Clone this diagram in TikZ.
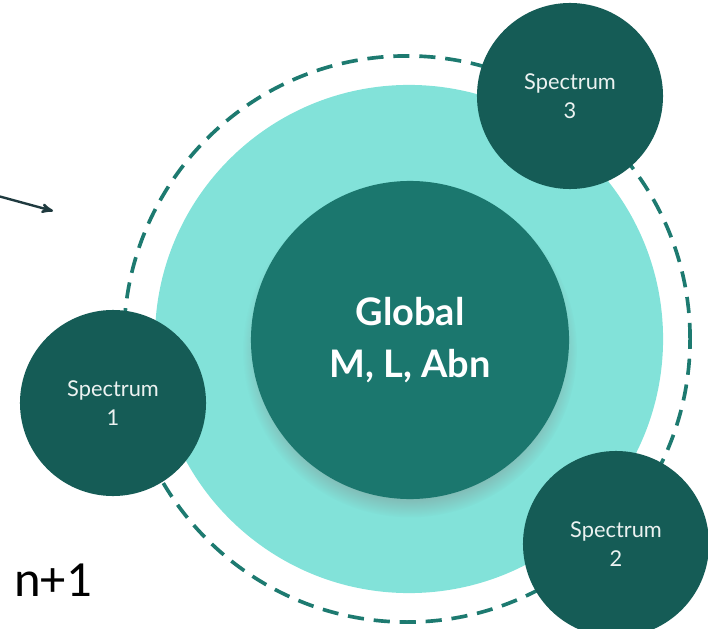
\documentclass[tikz,border=0pt]{standalone}
\usepackage{fontspec}
\setmainfont{Lato}
\newfontfamily\calfont{Carlito}
\usetikzlibrary{arrows,shadows,positioning}
\definecolor{ringcyan}{HTML}{82E2D9}
\definecolor{coreteal}{HTML}{1B776E}
\definecolor{specteal}{HTML}{155C56}
\definecolor{dashteal}{HTML}{1D7A70}
\definecolor{arrowdark}{HTML}{1F3A3F}
\tikzset{>=stealth',
	ring/.style={circle,fill=ringcyan,minimum size=12.7cm,inner sep=0pt},
	orbit/.style={circle,draw=dashteal,line width=2.6pt,dash pattern=on 11.5pt off 7pt,minimum size=14.15cm,inner sep=0pt},
	core/.style={circle,fill=coreteal,minimum size=7.95cm,inner sep=0pt,text=white,align=center,
		font=\fontsize{27}{37}\selectfont\bfseries,
		circular drop shadow={shadow xshift=0pt,shadow yshift=-7pt,shadow scale=1.05,opacity=0.5}},
	spec/.style={circle,fill=specteal,minimum size=4.65cm,inner sep=0pt,text=white!92!specteal,align=center,
		font=\fontsize{15.5}{21}\selectfont},
	plain/.style={inner sep=0pt,font=\calfont\fontsize{36}{40}\selectfont}}
\begin{document}
\begin{tikzpicture}[x=0.025cm,y=-0.025cm]
	\useasboundingbox (0,0) rectangle (708,629);
	\node (O) at (407,339) [orbit] {};
	\node (R) at (409,339) [ring] {};
	\node (G) at (410,340) [core] {Global\\M, L, Abn};
	\node (S3) at (570,96) [spec] {Spectrum\\3};
	\node (S1) at (113,403) [spec] {Spectrum\\1};
	\node (S2) at (616,544) [spec] {Spectrum\\2};
	\node (N) at (53,580) [plain] {n+1};
	\coordinate (a0) at (-2,196);
	\coordinate (a1) at (53,211);
	\draw [->,arrowdark,line width=1.7pt] (a0) -- (a1);
\end{tikzpicture}
\end{document}
